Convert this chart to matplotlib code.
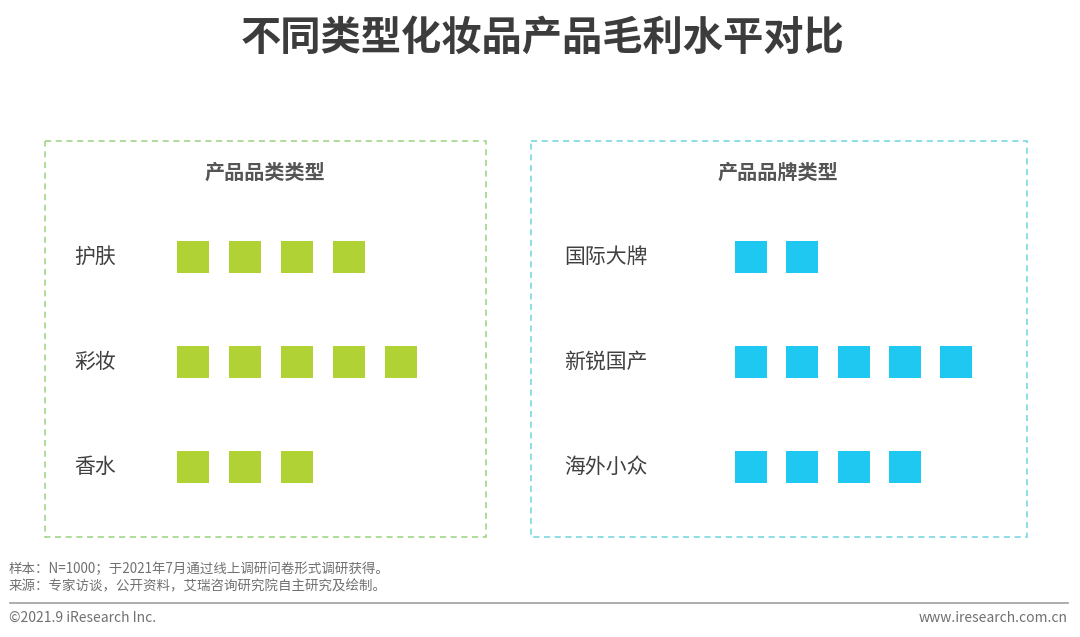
import matplotlib.pyplot as plt
from matplotlib.patches import Rectangle

plt.rcParams['font.family'] = ['Noto Sans CJK SC', 'DejaVu Sans']

# 数据
title = '不同类型化妆品产品毛利水平对比'
left_title = '产品品类类型'
left_cats = ['护肤', '彩妆', '香水']
left_vals = [4, 5, 3]
right_title = '产品品牌类型'
right_cats = ['国际大牌', '新锐国产', '海外小众']
right_vals = [2, 5, 4]
note1 = '样本：N=1000；于2021年7月通过线上调研问卷形式调研获得。'
note2 = '来源：专家访谈，公开资料，艾瑞咨询研究院自主研究及绘制。'

green = '#b1d235'
cyan = '#1ec8f0'

fig = plt.figure(figsize=(10.8, 6.37), dpi=100)
ax = fig.add_axes([0, 0, 1, 1])
ax.set_xlim(0, 1080)
ax.set_ylim(637, 0)
ax.axis('off')

ax.text(543, 38, title, ha='center', va='center', fontsize=29, fontweight='bold', color='#3c3c3c')

# 虚线框
ax.add_patch(Rectangle((45, 141), 441, 396, fill=False, ls=(0, (4, 3)), lw=1.1, ec='#9bd27e'))
ax.add_patch(Rectangle((531, 141), 496, 396, fill=False, ls=(0, (4, 3)), lw=1.1, ec='#6dd4de'))

ax.text(265, 172, left_title, ha='center', va='center', fontsize=14.5, fontweight='bold', color='#555555')
ax.text(778, 172, right_title, ha='center', va='center', fontsize=14.5, fontweight='bold', color='#555555')

row_y = [257, 362, 467]

def draw_block(cats, vals, lab_x, x0, step, color):
    for k, (c, v) in enumerate(zip(cats, vals)):
        y = row_y[k]
        ax.text(lab_x, y, c, ha='left', va='center', fontsize=15, color='#404040')
        xs = [x0 + i * step for i in range(v)]
        ax.bar(xs, [32] * v, width=32, bottom=y - 16, align='edge', color=color, lw=0)

draw_block(left_cats, left_vals, 74, 177, 52, green)
draw_block(right_cats, right_vals, 564, 735, 51.3, cyan)

# 脚注
ax.text(9, 569, note1, ha='left', va='center', fontsize=9.7, color='#707070')
ax.text(9, 586, note2, ha='left', va='center', fontsize=9.7, color='#707070')
ax.plot([10, 1068], [603, 603], color='#a0a0a0', lw=1.2)
ax.text(9, 618, '©2021.9 iResearch Inc.', ha='left', va='center', fontsize=10, color='#707070')
ax.text(1068, 618, 'www.iresearch.com.cn', ha='right', va='center', fontsize=10, color='#707070')

fig.savefig('out.png', dpi=100)
